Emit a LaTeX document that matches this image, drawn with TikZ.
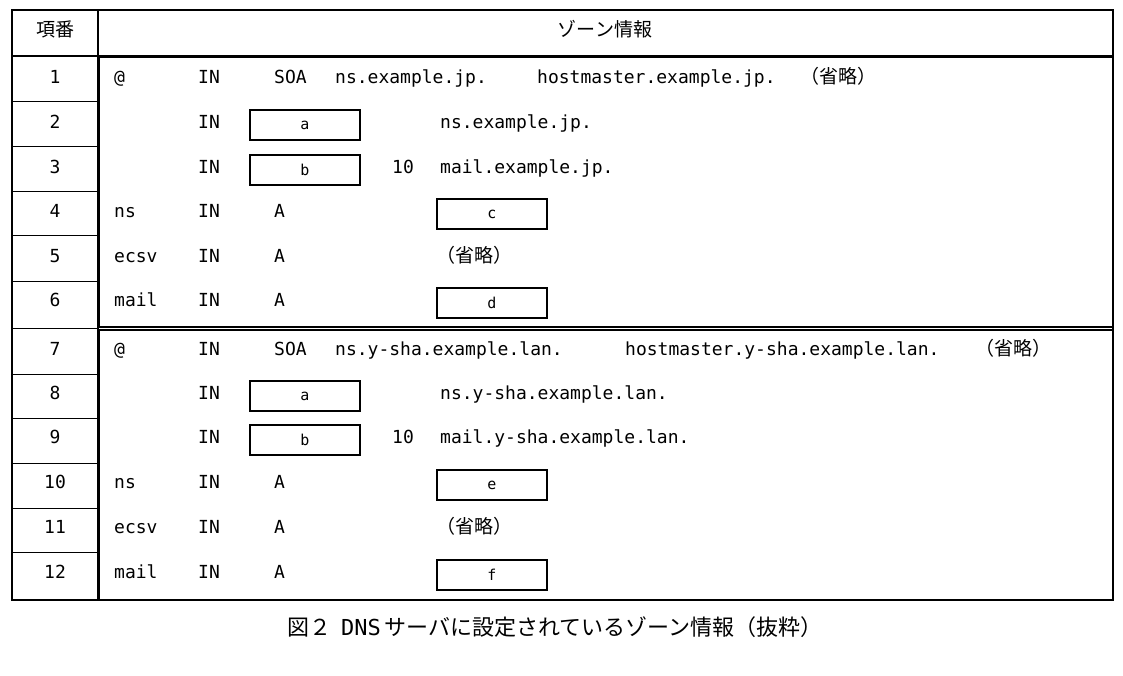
\documentclass[tikz,border=0pt]{standalone}
\usepackage{fontspec}
\setmainfont{Noto Sans CJK JP}
\setmonofont{DejaVu Sans Mono}
\begin{document}
\begin{tikzpicture}[x=1pt,y=-1pt,
  t/.style={anchor=west,inner sep=0pt,text height=1.6ex,text depth=0.4ex,font=\fontsize{18}{20}\selectfont\ttfamily},
  j/.style={anchor=west,inner sep=0pt,text height=1.6ex,text depth=0.4ex,font=\fontsize{19}{21}\selectfont},
  c/.style={inner sep=0pt,text height=1.6ex,text depth=0.4ex,font=\fontsize{19}{21}\selectfont},
  bx/.style={draw,line width=1.8pt,minimum width=110pt,minimum height=30pt,inner sep=0pt,font=\fontsize{15}{17}\selectfont\ttfamily}]
\useasboundingbox (0,0) rectangle (1123,676);
\draw[line width=1.3pt] (12,10) rectangle (1113,600);
\draw[line width=1.3pt] (98,10) -- (98,600);
\draw[line width=1.3pt] (12,56) -- (1113,56);
\foreach \y in {102,147,192,236,281,328,374,418,463,508,552}
  \draw[line width=1pt] (12,\y) -- (98,\y);
\draw[line width=2.6pt] (99,57) rectangle (1113,327);
\draw[line width=2.6pt] (99,330) rectangle (1113,600);
\node[c] (h1) at (55,33) {項番};
\node[c] (h2) at (605,33) {ゾーン情報};
\foreach \n/\y in {1/80,2/125,3/170,4/214,5/259,6/303,7/352,8/396,9/440,10/485,11/530,12/575}
  \node[c,font=\fontsize{18}{20}\selectfont\ttfamily] (r\n) at (55,\y) {\n};
% block 1
\node[t] (l1) at (114,80) {@};
\node[t] (i1) at (198,80) {IN};
\node[t] (s1) at (274,80) {SOA};
\node[t] (s1b) at (335,80) {ns.example.jp.};
\node[t] (s1c) at (537,80) {hostmaster.example.jp.};
\node[j] (s1d) at (800,80) {（省略）};
\node[t] (i2) at (198,125) {IN};
\node[bx] (ba1) at (305,125) {a};
\node[t] (n2) at (440,125) {ns.example.jp.};
\node[t] (i3) at (198,170) {IN};
\node[bx] (bb1) at (305,170) {b};
\node[t] (p3) at (392,170) {10};
\node[t] (n3) at (440,170) {mail.example.jp.};
\node[t] (l4) at (114,214) {ns};
\node[t] (i4) at (198,214) {IN};
\node[t] (a4) at (274,214) {A};
\node[bx] (bc) at (492,214) {c};
\node[t] (l5) at (114,259) {ecsv};
\node[t] (i5) at (198,259) {IN};
\node[t] (a5) at (274,259) {A};
\node[j] (o5) at (436,259) {（省略）};
\node[t] (l6) at (114,303) {mail};
\node[t] (i6) at (198,303) {IN};
\node[t] (a6) at (274,303) {A};
\node[bx] (bd) at (492,303) {d};
% block 2
\node[t] (l7) at (114,352) {@};
\node[t] (i7) at (198,352) {IN};
\node[t] (s7) at (274,352) {SOA};
\node[t] (s7b) at (335,352) {ns.y-sha.example.lan.};
\node[t] (s7c) at (625,352) {hostmaster.y-sha.example.lan.};
\node[j] (s7d) at (975,352) {（省略）};
\node[t] (i8) at (198,396) {IN};
\node[bx] (ba2) at (305,396) {a};
\node[t] (n8) at (440,396) {ns.y-sha.example.lan.};
\node[t] (i9) at (198,440) {IN};
\node[bx] (bb2) at (305,440) {b};
\node[t] (p9) at (392,440) {10};
\node[t] (n9) at (440,440) {mail.y-sha.example.lan.};
\node[t] (l10) at (114,485) {ns};
\node[t] (i10) at (198,485) {IN};
\node[t] (a10) at (274,485) {A};
\node[bx] (be) at (492,485) {e};
\node[t] (l11) at (114,530) {ecsv};
\node[t] (i11) at (198,530) {IN};
\node[t] (a11) at (274,530) {A};
\node[j] (o11) at (436,530) {（省略）};
\node[t] (l12) at (114,575) {mail};
\node[t] (i12) at (198,575) {IN};
\node[t] (a12) at (274,575) {A};
\node[bx] (bf) at (492,575) {f};
\node[c,font=\fontsize{22}{24}\selectfont] (cap) at (555,632) {図２\ \ {\ttfamily DNS}\,サーバに設定されているゾーン情報（抜粋）};
\end{tikzpicture}
\end{document}
